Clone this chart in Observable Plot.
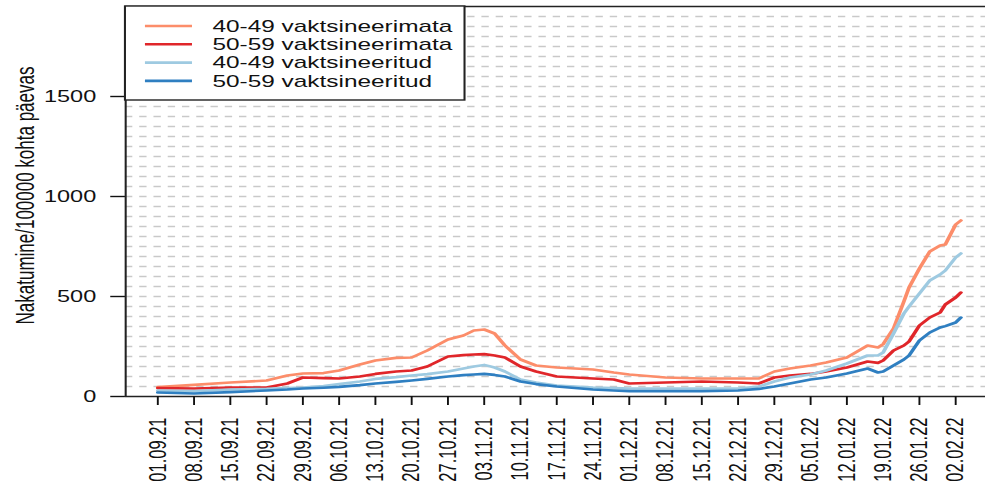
<!DOCTYPE html>
<html><head><meta charset="utf-8">
<script src="https://cdn.jsdelivr.net/npm/d3@7"></script>
<script src="https://cdn.jsdelivr.net/npm/@observablehq/plot@0.6"></script>
<style>html,body{margin:0;padding:0;background:#fff;overflow:hidden;width:985px;height:481px;}</style>
</head><body><div id="chart"></div>
<script>
// ---- data ----
const seriesNames = ["40-49 vaktsineerimata", "50-59 vaktsineerimata", "40-49 vaktsineeritud", "50-59 vaktsineeritud"];
const seriesColors = ["#fc8d6a", "#e0262a", "#9ecae1", "#2f7fc1"];
const dates = ["2021-09-01","2021-09-08","2021-09-15","2021-09-22","2021-09-26","2021-09-29","2021-10-03","2021-10-06","2021-10-10","2021-10-13","2021-10-17","2021-10-20","2021-10-23","2021-10-27","2021-10-30","2021-11-01","2021-11-03","2021-11-05","2021-11-07","2021-11-10","2021-11-13","2021-11-17","2021-11-24","2021-11-28","2021-12-01","2021-12-08","2021-12-15","2021-12-22","2021-12-26","2021-12-29","2022-01-01","2022-01-05","2022-01-08","2022-01-12","2022-01-16","2022-01-18","2022-01-19","2022-01-21","2022-01-23","2022-01-24","2022-01-26","2022-01-28","2022-01-30","2022-01-31","2022-02-02","2022-02-03"];
const unvacc4049 = [47,58,70,80,105,115,117,130,160,180,193,195,230,285,305,330,335,315,255,185,155,145,135,120,110,95,90,90,90,125,140,155,170,195,255,245,262,340,475,545,640,725,755,760,860,880];
const unvacc5059 = [42,40,45,45,65,95,92,90,100,113,125,130,150,200,207,210,212,205,195,150,125,100,90,85,65,70,75,70,65,95,105,113,125,145,175,168,180,230,255,275,355,395,420,460,495,520];
const vacc4049 = [30,27,35,38,42,45,52,62,75,88,97,105,112,125,140,150,158,145,125,85,70,55,45,42,40,40,40,40,50,75,95,110,130,165,205,205,220,315,415,450,515,580,610,630,695,715];
const vacc5059 = [20,15,22,30,35,40,44,48,57,65,73,80,88,100,107,110,113,108,100,75,62,50,35,30,27,27,27,30,38,50,65,85,95,115,140,120,125,155,185,205,280,320,345,352,370,395];
const tickLabels = ["01.09.21","08.09.21","15.09.21","22.09.21","29.09.21","06.10.21","13.10.21","20.10.21","27.10.21","03.11.21","10.11.21","17.11.21","24.11.21","01.12.21","08.12.21","15.12.21","22.12.21","29.12.21","05.01.22","12.01.22","19.01.22","26.01.22","02.02.22"];
const yTicks = [0, 500, 1000, 1500];
const yLabel = "Nakatumine/100000 kohta päevas";

// ---- build ----
const SX = 1.47;            // horizontal stretch of the original picture
const W = 675, H = 481;
const parseISO = d3.utcParse("%Y-%m-%d");
const parseTick = d3.utcParse("%d.%m.%y");
const fmtTick = d3.utcFormat("%d.%m.%y");
const allSeries = [unvacc4049, unvacc5059, vacc4049, vacc5059];
const rows = [];
allSeries.forEach((vals, s) => vals.forEach((v, i) => rows.push({date: parseISO(dates[i]), value: v, series: seriesNames[s]})));
const tickDates = tickLabels.map(parseTick);
const t0 = parseISO(dates[0]), t1 = parseISO(dates[dates.length - 1]);
const pad = (t1 - t0) * 0.04;
const xDomain = [new Date(+t0 - pad), new Date(+t1 + pad)];
const yMax = 1950;
const grid = d3.range(50, 1901, 50);

const chart = Plot.plot({
  width: W, height: H,
  marginLeft: 85, marginRight: 0, marginTop: 6, marginBottom: 85,
  style: {fontFamily: "'Liberation Sans', Arial, sans-serif", color: "#111", background: "white"},
  x: {type: "utc", domain: xDomain},
  y: {domain: [0, yMax]},
  color: {domain: seriesNames, range: seriesColors},
  marks: [
    Plot.ruleY(grid, {stroke: "#c9c9c9", strokeWidth: 1.3, strokeDasharray: "5,4.7"}),
    Plot.line(rows, {x: "date", y: "value", z: "series", stroke: "series", strokeWidth: 2.6, curve: "linear"}),
    Plot.ruleY([0, yMax], {stroke: "#222", strokeWidth: 1.4}),
    Plot.ruleX([xDomain[0]], {stroke: "#222", strokeWidth: 1.4}),
    Plot.axisY(yTicks, {tickSize: 10, tickPadding: 10, fontSize: 16, strokeWidth: 1.4, tickFormat: d3.format("d"), label: null}),
    Plot.axisX(tickDates, {tickRotate: -90, tickSize: 9, tickPadding: 12, tickFormat: fmtTick, fontSize: 16.5, strokeWidth: 1.3, label: null}),
    Plot.text([yLabel], {frameAnchor: "left", rotate: -90, dx: -68, dy: -6, textAnchor: "middle", fontSize: 17, fill: "#111"})
  ]
});
chart.setAttribute("preserveAspectRatio", "none");
chart.style.width = (W * SX) + "px";
chart.style.height = H + "px";
chart.style.maxWidth = "none";

// legend (drawn in the same stretched coordinate space)
const svg = d3.select(chart);
const lg = svg.append("g").attr("text-anchor", "start");
lg.append("rect").attr("x", 85).attr("y", 6).attr("width", 231).attr("height", 94)
  .attr("fill", "white").attr("stroke", "#222").attr("stroke-width", 1.4);
seriesNames.forEach((n, i) => {
  const y = 26 + i * 18.3;
  lg.append("line").attr("x1", 98.6).attr("x2", 130.6).attr("y1", y).attr("y2", y)
    .attr("stroke", seriesColors[i]).attr("stroke-width", 2.6);
  lg.append("text").attr("x", 144.5).attr("y", y).attr("dy", "0.35em")
    .attr("text-anchor", "start").attr("font-size", 16.6).attr("fill", "#111").text(n);
});
document.getElementById("chart").appendChild(chart);
</script>
</body></html>
